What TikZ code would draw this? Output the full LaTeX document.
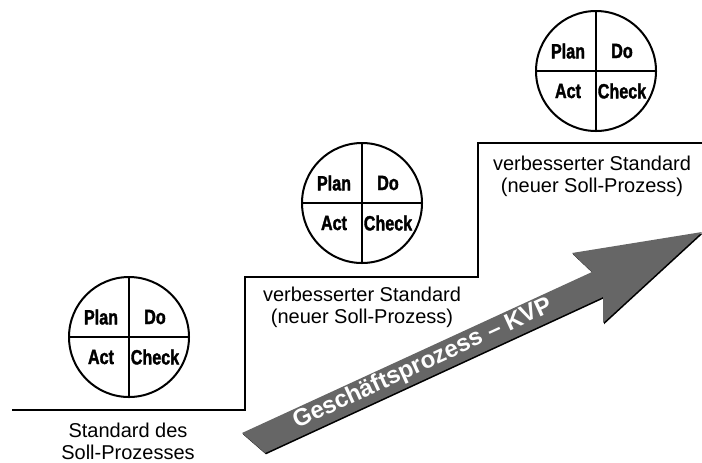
\documentclass[tikz,border=0pt]{standalone}
\usepackage{fontspec}
\setmainfont{Liberation Sans}
\newfontfamily\pdcafont[FakeStretch=0.78, FakeBold=1.6]{Liberation Sans}
\definecolor{kvpgray}{RGB}{102,102,102}

\tikzset{
  pdca/.style={circle, draw, line width=1.5pt, minimum size=90pt, inner sep=0pt},
  quad/.style={font=\pdcafont\bfseries\fontsize{15.5}{15.5}\selectfont, inner sep=0pt},
  stand/.style={font=\fontsize{15}{16.5}\selectfont, align=center},
}

\begin{document}
\begin{tikzpicture}[x=0.75pt, y=-0.75pt]
  \useasboundingbox (0,0) rectangle (702,462);

  % Staircase of standards
  \coordinate (s0) at (12,410);
  \coordinate (s1) at (245,410);
  \coordinate (s2) at (245,277);
  \coordinate (s3) at (478,277);
  \coordinate (s4) at (478,143);
  \coordinate (s5) at (702,143);
  \draw[line width=1.2pt] (s0) -- (s1) -- (s2) -- (s3) -- (s4) -- (s5);

  % PDCA circles
  \foreach \i/\x/\y in {1/129/337, 2/362/203, 3/596/71} {
    \node[pdca] (c\i) at (\x,\y) {};
    \draw[line width=1.5pt] (c\i.north) -- (c\i.south);
    \draw[line width=1.5pt] (c\i.west) -- (c\i.east);
    \node[quad] (plan\i) at ([shift={(-28,-20)}]c\i) {Plan};
    \node[quad] (do\i) at ([shift={(26,-20)}]c\i) {Do};
    \node[quad] (act\i) at ([shift={(-28,20)}]c\i) {Act};
    \node[quad] (check\i) at ([shift={(26,20)}]c\i) {Check};
  }

  \node[stand] (std1) at (128,441) {Standard des\\Soll-Prozesses};
  \node[stand] (std2) at (362,307) {verbesserter Standard\\(neuer Soll-Prozess)};
  \node[stand] (std3) at (592,176) {verbesserter Standard\\(neuer Soll-Prozess)};

  % KVP arrow, shadow first
  \foreach \col/\dx/\dy in {black/1/1.3, kvpgray/0/0} {
    \fill[\col, shift={(\dx,\dy)}] (242,433) -- (592,272) -- (572,253)
      -- (702,232) -- (603,323) -- (603,297) -- (265,453) -- cycle;
  }
  \node[rotate=24.7, text=white, font=\bfseries\fontsize{18}{18}\selectfont]
    (kvp) at (423,364) {Geschäftsprozess – KVP};
\end{tikzpicture}
\end{document}
